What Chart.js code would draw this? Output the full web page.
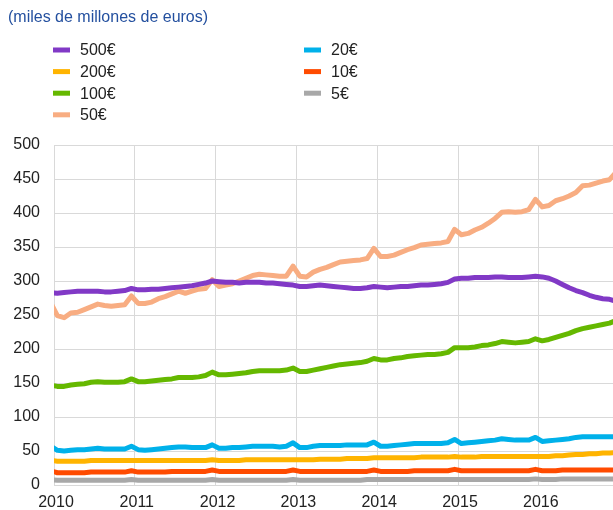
<!DOCTYPE html>
<html>
<head>
<meta charset="utf-8">
<script src="https://cdn.jsdelivr.net/npm/chart.js@4.4.0/dist/chart.umd.min.js"></script>
<style>
  html, body { margin: 0; padding: 0; background: #fff; }
  #wrap { position: relative; width: 613px; height: 510px; }
</style>
</head>
<body>
<div id="wrap"><canvas id="chart" width="613" height="510"></canvas></div>
<script>
// monthly series, Dec 2009 -> Dec 2016 (85 values each)
const titleText = '(miles de millones de euros)';
const seriesNames = ['500€', '200€', '100€', '50€', '20€', '10€', '5€'];
const seriesColors = ['#8139c6', '#ffb400', '#65b800', '#f8ad82', '#00b1ea', '#ff4b00', '#a8a8a8'];
const yearTicks = [2010, 2011, 2012, 2013, 2014, 2015, 2016];
const valueTicks = [0, 50, 100, 150, 200, 250, 300, 350, 400, 450, 500];
const firstYear = 2009, firstMonth = 12;

const b500 = [283,
  282, 283, 284, 285, 285, 285, 285, 284, 284, 285, 286, 289,
  287, 287, 288, 288, 289, 290, 291, 292, 293, 295, 297, 300,
  299, 298, 298, 297, 298, 298, 298, 297, 297, 296, 295, 294,
  292, 292, 293, 294, 293, 292, 291, 290, 289, 289, 290, 292,
  291, 290, 291, 292, 292, 293, 294, 294, 295, 296, 298, 303,
  304, 304, 305, 305, 305, 306, 306, 305, 305, 305, 306, 307,
  306, 304, 300, 295, 290, 286, 283, 279, 276, 274, 273, 270];
const b200 = [36,
  35, 35, 35, 35, 35, 36, 36, 36, 36, 36, 36, 36,
  36, 36, 36, 36, 36, 36, 36, 36, 36, 36, 36, 37,
  36, 36, 36, 36, 37, 37, 37, 37, 37, 37, 37, 37,
  37, 37, 37, 38, 38, 38, 38, 39, 39, 39, 39, 40,
  40, 40, 40, 40, 40, 40, 41, 41, 41, 41, 41, 42,
  41, 41, 41, 42, 42, 42, 42, 42, 42, 42, 42, 42,
  42, 42, 43, 43, 44, 45, 45, 46, 46, 47, 47, 48];
const b100 = [147,
  145, 145, 147, 148, 149, 151, 152, 151, 151, 151, 152, 156,
  152, 152, 153, 154, 155, 156, 158, 158, 158, 159, 161, 166,
  162, 162, 163, 164, 165, 167, 168, 168, 168, 168, 169, 172,
  167, 167, 169, 171, 173, 175, 177, 178, 179, 180, 182, 186,
  184, 184, 186, 187, 189, 190, 191, 192, 192, 193, 195, 202,
  202, 202, 203, 205, 206, 208, 211, 210, 209, 210, 211, 215,
  212, 214, 217, 220, 223, 227, 230, 232, 234, 236, 238, 242];
const b50 = [268,
  249, 246, 253, 254, 258, 262, 266, 264, 263, 264, 265, 278,
  267, 267, 269, 274, 277, 281, 285, 282, 285, 288, 289, 302,
  292, 294, 296, 300, 304, 308, 310, 309, 308, 307, 307, 322,
  307, 306, 313, 317, 320, 324, 328, 329, 330, 331, 333, 348,
  336, 336, 338, 342, 346, 349, 353, 354, 355, 356, 358, 376,
  368, 370, 375, 379, 385, 392, 401, 402, 401, 402, 405, 420,
  409, 411, 418, 421, 425, 430, 440, 441, 444, 447, 449, 460];
const b20 = [57,
  51, 50, 51, 52, 52, 53, 54, 53, 53, 53, 53, 57,
  52, 51, 52, 53, 54, 55, 56, 56, 55, 55, 55, 59,
  54, 54, 55, 55, 56, 57, 57, 57, 57, 56, 57, 62,
  55, 55, 57, 58, 58, 58, 58, 59, 59, 59, 59, 63,
  57, 57, 58, 59, 60, 61, 61, 61, 61, 61, 62, 67,
  61, 62, 63, 64, 65, 66, 68, 67, 66, 66, 66, 70,
  64, 65, 66, 67, 68, 70, 71, 71, 71, 71, 71, 71];
const b10 = [21,
  18, 18, 18, 18, 18, 19, 19, 19, 19, 19, 19, 21,
  19, 19, 19, 19, 19, 20, 20, 20, 20, 20, 20, 22,
  20, 20, 20, 20, 20, 20, 20, 20, 20, 20, 20, 22,
  20, 20, 20, 20, 20, 20, 20, 20, 20, 20, 20, 22,
  20, 20, 20, 20, 20, 21, 21, 21, 21, 21, 21, 23,
  21, 21, 21, 21, 21, 21, 21, 21, 21, 21, 21, 23,
  21, 21, 21, 22, 22, 22, 22, 22, 22, 22, 22, 22];
const b5 = [8,
  7, 7, 7, 7, 7, 7, 7, 7, 7, 7, 7, 8,
  7, 7, 7, 7, 7, 7, 7, 7, 7, 7, 7, 8,
  7, 7, 7, 7, 7, 7, 7, 7, 7, 7, 7, 8,
  7, 7, 7, 7, 7, 7, 7, 7, 7, 7, 8, 8,
  8, 8, 8, 8, 8, 8, 8, 8, 8, 8, 8, 8,
  8, 8, 8, 8, 8, 8, 8, 8, 8, 8, 8, 9,
  8, 8, 8, 9, 9, 9, 9, 9, 9, 9, 9, 9];

const allSeries = [b500, b200, b100, b50, b20, b10, b5];
const FONT = '"Liberation Sans", Arial, sans-serif';

// mid-month position in decimal years
const monthPos = i => firstYear + (firstMonth - 1 + i + 0.5) / 12;

const datasets = allSeries.map((vals, k) => ({
    label: seriesNames[k],
    data: vals.map((v, i) => ({ x: monthPos(i), y: v })),
    borderColor: seriesColors[k],
    backgroundColor: seriesColors[k],
    borderWidth: 5,
    pointRadius: 0,
    tension: 0,
    borderJoinStyle: 'round',
    borderCapStyle: 'round',
    clip: { left: 0, right: 0, top: 10, bottom: 10 }
}));

// title + two-column legend above the plot
const headerPlugin = {
    id: 'header',
    afterDraw(chart) {
        const ctx = chart.ctx;
        ctx.save();
        ctx.textBaseline = 'middle';
        ctx.textAlign = 'left';
        ctx.font = '16px ' + FONT;
        ctx.fillStyle = '#24509f';
        ctx.fillText(titleText, 8, 18);

        const cols = [53, 304];
        seriesNames.forEach((name, k) => {
            const col = k < 4 ? 0 : 1;
            const row = k < 4 ? k : k - 4;
            const x = cols[col];
            const y = 50 + row * 21.6;
            ctx.fillStyle = seriesColors[k];
            ctx.fillRect(x, y - 2.5, 17, 5);
            ctx.fillStyle = '#222';
            ctx.fillText(name, x + 27, y + 1);
        });
        ctx.restore();
    }
};

new Chart(document.getElementById('chart'), {
    type: 'line',
    data: { datasets },
    options: {
        responsive: false,
        animation: false,
        layout: { padding: { top: 145, right: 0, bottom: 0, left: 0 } },
        plugins: { legend: { display: false }, tooltip: { enabled: false } },
        scales: {
            x: {
                type: 'linear',
                min: 2010,
                max: 2016.918,
                afterBuildTicks: s => { s.ticks = yearTicks.map(v => ({ value: v })); },
                afterFit: s => { s.height = 25; },
                ticks: {
                    callback: v => String(v),
                    font: { family: FONT, size: 16 },
                    color: '#222',
                    padding: 8,
                    labelOffset: 2,
                    maxRotation: 0
                },
                grid: { color: '#d9d9d9', drawTicks: false },
                border: { color: '#d9d9d9' }
            },
            y: {
                min: 0,
                max: 500,
                afterBuildTicks: s => { s.ticks = valueTicks.map(v => ({ value: v })); },
                afterFit: s => { s.width = 54; },
                ticks: {
                    font: { family: FONT, size: 16 },
                    color: '#222',
                    padding: 14
                },
                grid: { color: '#d9d9d9', drawTicks: false },
                border: { color: '#d9d9d9' }
            }
        }
    },
    plugins: [headerPlugin]
});
</script>
</body>
</html>
